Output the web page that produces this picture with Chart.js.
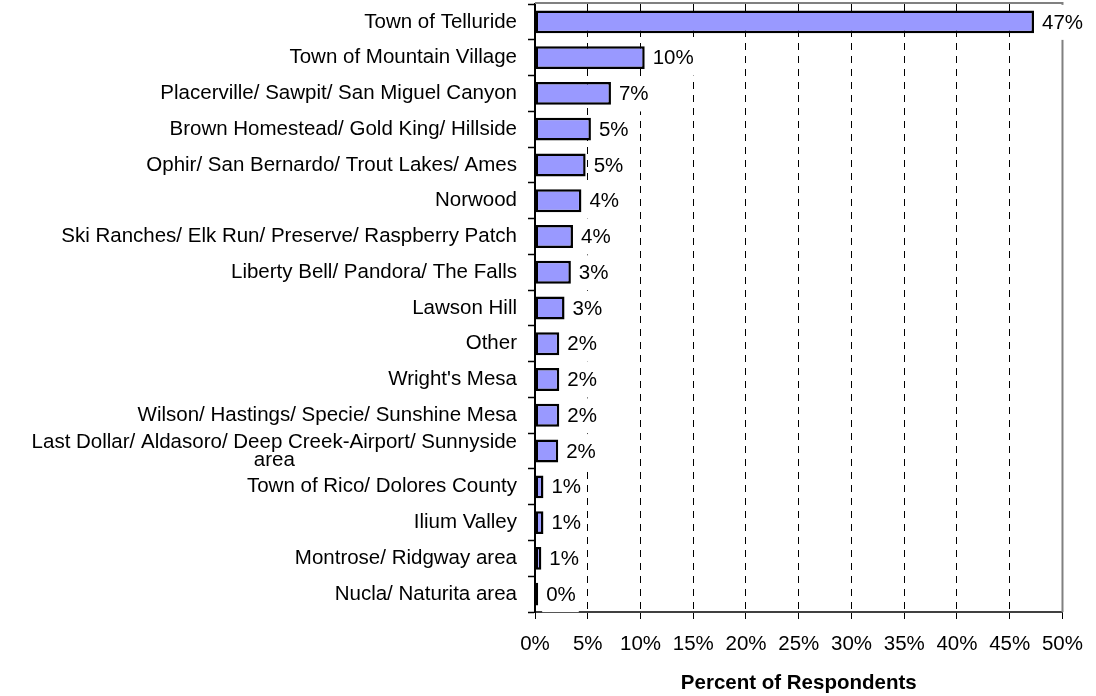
<!DOCTYPE html>
<html>
<head>
<meta charset="utf-8">
<script src="https://cdn.jsdelivr.net/npm/chart.js@4/dist/chart.umd.min.js"></script>
<style>
  html, body { margin: 0; padding: 0; background: #fff; }
  #wrap { width: 1096px; height: 696px; position: relative; }
</style>
</head>
<body>
<div id="wrap"><canvas id="c"></canvas></div>
<script>
const categories = [
  'Town of Telluride',
  'Town of Mountain Village',
  'Placerville/ Sawpit/ San Miguel Canyon',
  'Brown Homestead/ Gold King/ Hillside',
  'Ophir/ San Bernardo/ Trout Lakes/ Ames',
  'Norwood',
  'Ski Ranches/ Elk Run/ Preserve/ Raspberry Patch',
  'Liberty Bell/ Pandora/ The Falls',
  'Lawson Hill',
  'Other',
  "Wright's Mesa",
  'Wilson/ Hastings/ Specie/ Sunshine Mesa',
  ['Last Dollar/ Aldasoro/ Deep Creek-Airport/ Sunnyside', 'area'],
  'Town of Rico/ Dolores County',
  'Ilium Valley',
  'Montrose/ Ridgway area',
  'Nucla/ Naturita area'
];
const percentValues = [47.3, 10.4, 7.2, 5.3, 4.8, 4.4, 3.6, 3.4, 2.8, 2.3, 2.3, 2.3, 2.2, 0.8, 0.8, 0.6, 0.3];
const axisTitle = 'Percent of Respondents';
const xMin = 0, xMax = 50, xStep = 5;

const FONT = '"Liberation Sans", Arial, sans-serif';
const FSIZE = 20.5;

// centre extra lines of multi-line labels under the first line (as in the original)
const measureCtx = document.createElement('canvas').getContext('2d');
function centreLines(label) {
  if (!Array.isArray(label)) return label;
  measureCtx.font = FSIZE + 'px ' + FONT;
  const w0 = measureCtx.measureText(label[0]).width;
  const sp = measureCtx.measureText(' ').width;
  return label.map((line, k) => {
    if (k === 0) return line;
    const w = measureCtx.measureText(line).width;
    const n = Math.max(0, Math.round((w0 - w) / 2 / sp));
    return line + ' '.repeat(n);
  });
}

const labelPlugin = {
  id: 'labelsAndFrame',
  afterDatasetsDraw(chart) {
    const ctx = chart.ctx;
    const a = chart.chartArea;
    ctx.save();
    ctx.strokeStyle = '#808080';
    ctx.lineWidth = 2;
    ctx.beginPath();
    ctx.moveTo(a.left, a.top - 1);
    ctx.lineTo(a.right + 1, a.top - 1);
    ctx.moveTo(a.right, a.top - 1);
    ctx.lineTo(a.right, a.bottom);
    ctx.stroke();
    ctx.font = FSIZE + 'px ' + FONT;
    ctx.textBaseline = 'middle';
    ctx.textAlign = 'left';
    const meta = chart.getDatasetMeta(0);
    meta.data.forEach((bar, i) => {
      const txt = Math.round(percentValues[i]) + '%';
      const w = ctx.measureText(txt).width;
      const tx = bar.x + 8;
      ctx.fillStyle = '#fff';
      ctx.fillRect(tx - 4, bar.y - 17, w + 7, 35);
      ctx.fillStyle = '#000';
      ctx.fillText(txt, tx, bar.y + 1);
    });
    ctx.restore();
  }
};

new Chart(document.getElementById('c'), {
  type: 'bar',
  data: {
    labels: categories,
    datasets: [{
      data: percentValues,
      backgroundColor: '#9999FF',
      borderColor: '#000000',
      borderWidth: 2.5,
      borderSkipped: false,
      barPercentage: 0.64,
      categoryPercentage: 1.0
    }]
  },
  options: {
    indexAxis: 'y',
    responsive: true,
    maintainAspectRatio: false,
    animation: false,
    layout: { padding: { top: 4, right: 30, bottom: 0, left: 0 } },
    plugins: { legend: { display: false }, tooltip: { enabled: false } },
    scales: {
      x: {
        type: 'linear',
        position: 'bottom',
        min: xMin,
        max: xMax,
        afterFit(scale) { scale.height = 84; },
        ticks: {
          stepSize: xStep,
          color: '#000',
          padding: 13,
          maxRotation: 0,
          font: { family: FONT, size: FSIZE },
          callback: v => v + '%'
        },
        grid: {
          color: '#000',
          lineWidth: 1,
          drawTicks: true,
          tickLength: 7,
          tickColor: '#000',
          tickWidth: 1
        },
        border: { display: true, color: '#404040', width: 2, dash: [7, 6] },
        title: {
          display: true,
          text: axisTitle,
          color: '#000',
          padding: { top: 0, bottom: 0 },
          font: { family: FONT, size: FSIZE, weight: 'bold' }
        }
      },
      y: {
        type: 'category',
        offset: true,
        afterFit(scale) {
          scale.width = 535;
          scale.paddingTop = 0;
          scale.paddingBottom = 0;
        },
        ticks: {
          color: '#000',
          padding: 11,
          autoSkip: false,
          font: { family: FONT, size: FSIZE, lineHeight: 0.88 },
          callback: function (value, index) { return centreLines(categories[index]); }
        },
        grid: {
          offset: true,
          drawOnChartArea: false,
          drawTicks: true,
          tickLength: 7,
          tickColor: '#000',
          tickWidth: 1.5
        },
        border: { display: true, color: '#000', width: 2 }
      }
    }
  },
  plugins: [labelPlugin]
});
</script>
</body>
</html>
